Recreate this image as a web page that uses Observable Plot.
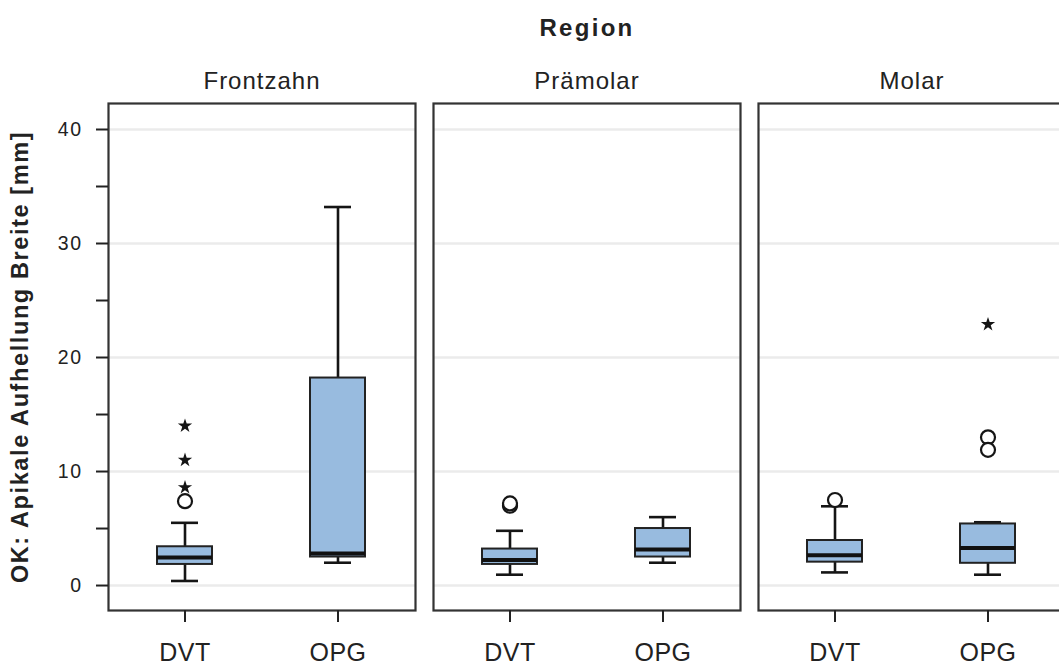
<!DOCTYPE html>
<html><head><meta charset="utf-8">
<script src="https://cdn.jsdelivr.net/npm/d3@7"></script>
<script src="https://cdn.jsdelivr.net/npm/@observablehq/plot@0.6"></script>
<style>
html,body{margin:0;padding:0;background:#fff;overflow:hidden;}
#chart svg{max-width:none !important;display:block;}
#chart g[aria-label="fx-axis tick label"]{font-size:24px;letter-spacing:1px;}
#chart g[aria-label="fx-axis label"]{font-size:24px;font-weight:bold;letter-spacing:2.3px;}
#chart g[aria-label="y-axis tick label"]{font-size:19.5px;letter-spacing:1.5px;}
#chart g[aria-label="y-axis label"]{font-size:23.5px;font-weight:bold;letter-spacing:1.6px;}
#chart g[aria-label="x-axis tick label"]{font-size:25px;letter-spacing:0.5px;}
</style></head><body><div id="chart"></div>
<script>
const regions = ["Frontzahn", "Prämolar", "Molar"];
const methods = ["DVT", "OPG"];

// box summaries (one per region × method)
const boxRegion  = ["Frontzahn", "Frontzahn", "Prämolar", "Prämolar", "Molar", "Molar"];
const boxMethod  = ["DVT", "OPG", "DVT", "OPG", "DVT", "OPG"];
const whiskerLow = [0.4, 2.0, 0.95, 2.0, 1.15, 0.95];
const q1         = [1.85, 2.5, 1.85, 2.5, 2.05, 1.95];
const median     = [2.45, 2.8, 2.25, 3.15, 2.65, 3.3];
const q3         = [3.4, 18.2, 3.2, 5.0, 3.95, 5.4];
const whiskerHigh= [5.5, 33.2, 4.8, 6.0, 6.95, 5.55];

// outliers (circles)
const outRegion = ["Frontzahn", "Prämolar", "Prämolar", "Molar", "Molar", "Molar"];
const outMethod = ["DVT", "DVT", "DVT", "DVT", "OPG", "OPG"];
const outValue  = [7.4, 7.0, 7.2, 7.5, 13.0, 11.9];

// extreme values (stars)
const extRegion = ["Frontzahn", "Frontzahn", "Frontzahn", "Molar"];
const extMethod = ["DVT", "DVT", "DVT", "OPG"];
const extValue  = [8.6, 11.0, 14.0, 22.9];

const yTicks = [0, 10, 20, 30, 40];
const yMinor = [5, 15, 25, 35];

const boxes = boxRegion.map((r, i) => ({
  region: r, method: boxMethod[i], lo: whiskerLow[i], q1: q1[i],
  med: median[i], q3: q3[i], hi: whiskerHigh[i]
}));
const outliers = outValue.map((v, i) => ({region: outRegion[i], method: outMethod[i], value: v}));
const extremes = extValue.map((v, i) => ({region: extRegion[i], method: extMethod[i], value: v}));

const ink = "#151515";
const plot = Plot.plot({
  width: 1065, height: 669,
  marginLeft: 108, marginRight: 0, marginTop: 103, marginBottom: 59,
  style: {fontFamily: "'Liberation Sans', Arial, sans-serif", color: "#222", background: "#fff"},
  fx: {domain: regions, paddingInner: 18 / 325, paddingOuter: 0},
  x: {domain: methods, paddingInner: 0.64, paddingOuter: 0.32},
  y: {domain: [-2.19, 42.28]},
  marks: [
    Plot.gridY(yTicks, {stroke: "#ebebeb", strokeOpacity: 1, strokeWidth: 2.5}),
    Plot.ruleX(boxes, {fx: "region", x: "method", y1: "lo", y2: "q1", stroke: ink, strokeWidth: 2.6}),
    Plot.ruleX(boxes, {fx: "region", x: "method", y1: "q3", y2: "hi", stroke: ink, strokeWidth: 2.6}),
    Plot.tickY(boxes, {fx: "region", x: "method", y: "lo", stroke: ink, strokeWidth: 2.6, insetLeft: 14, insetRight: 14}),
    Plot.tickY(boxes, {fx: "region", x: "method", y: "hi", stroke: ink, strokeWidth: 2.6, insetLeft: 14, insetRight: 14}),
    Plot.barY(boxes, {fx: "region", x: "method", y1: "q1", y2: "q3", fill: "#98bbdf", stroke: "#222", strokeWidth: 2}),
    Plot.tickY(boxes, {fx: "region", x: "method", y: "med", stroke: "#111", strokeWidth: 4}),
    Plot.dot(outliers, {fx: "region", x: "method", y: "value", r: 7, stroke: ink, strokeWidth: 2.2, fill: "white"}),
    Plot.dot(extremes, {fx: "region", x: "method", y: "value", symbol: "star", r: 4.5, fill: ink, stroke: "none"}),
    Plot.frame({stroke: "#333", strokeWidth: 2.2}),
    Plot.axisFx({anchor: "top", tickSize: 0, tickPadding: 15, label: "Region", labelAnchor: "center", labelOffset: 85}),
    Plot.axisY({ticks: yTicks, tickSize: 12, tickPadding: 14, strokeWidth: 2,
      label: "OK: Apikale Aufhellung Breite [mm]", labelAnchor: "center", labelArrow: "none", labelOffset: 97}),
    Plot.axisY({ticks: yMinor, tickSize: 12, strokeWidth: 2, tickFormat: () => "", label: null}),
    Plot.axisX({tickSize: 12, tickPadding: 21, strokeWidth: 2, label: null})
  ]
});
document.getElementById("chart").appendChild(plot);
</script>
</body></html>
